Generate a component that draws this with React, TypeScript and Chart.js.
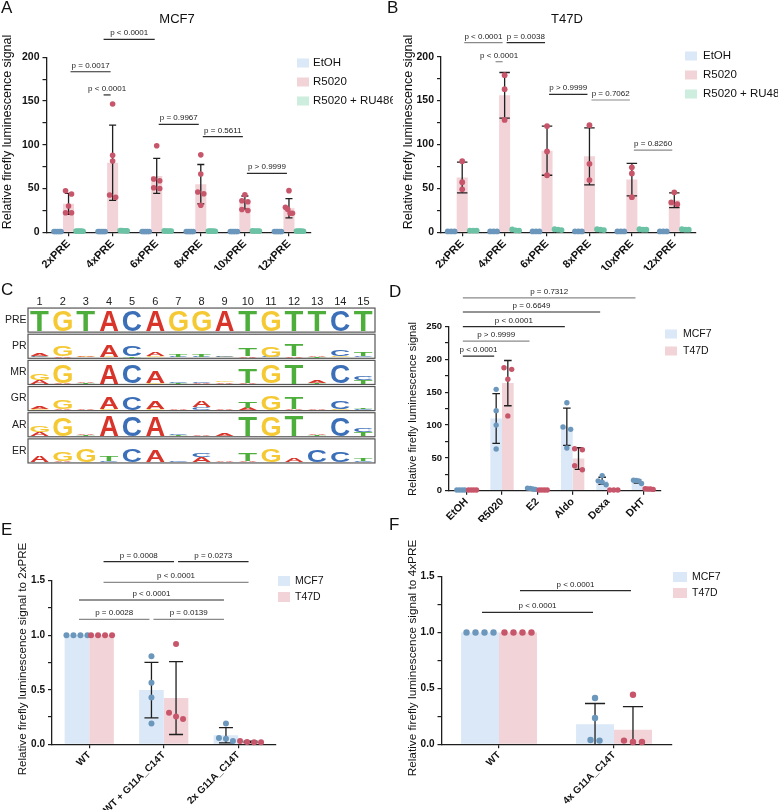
import React, { useEffect, useRef } from 'react';
import { Chart, registerables } from 'chart.js';
Chart.register(...registerables);

const FONT = '"Liberation Sans", Arial, Helvetica, sans-serif';
const AXIS = '#1e1e1e';
const BLUE_BAR = '#dbe8f7';
const BLUE_DOT = '#6c97bc';
const PINK_BAR = '#f2d3d8';
const PINK_DOT = '#c8566b';
const GREEN_BAR = '#cdeedf';
const GREEN_DOT = '#6cc2a4';

// ---------------- Panel A (MCF7) ----------------
const PRE_LABELS = ['2xPRE', '4xPRE', '6xPRE', '8xPRE', '10xPRE', '12xPRE'];
const A_ETOH = [1, 1, 1, 1, 1, 1];
const A_ETOH_SD = [0, 0, 0, 0, 0, 0];
const A_ETOH_PTS = [[1, 1, 1, 1, 1], [1, 1, 1, 1, 1], [1, 1, 1, 1, 1], [1, 1, 1, 1, 1], [1, 1, 1, 1, 1], [1, 1, 1, 1, 1]];
const A_R5020 = [32.5, 79.6, 64.4, 55, 34, 27.5];
const A_R5020_SD = [12, 43, 20, 22.5, 7.5, 11];
const A_R5020_PTS = [[47.5, 43.8, 30, 22.4, 22.4], [146.7, 88, 81.5, 42.6, 40], [99, 61, 59, 51, 50], [88.5, 66.6, 46, 44, 31], [43, 36, 35, 26, 25], [47.6, 28.5, 26.2, 21.7, 21.7]];
const A_RU486 = [1.3, 1.8, 1.5, 1.3, 1.5, 1.3];
const A_RU486_SD = [0, 0, 0, 0, 0, 0];
const A_RU486_PTS = [[1.3, 1.2, 1.4, 1.3, 1.3], [2, 1.6, 1.8, 2, 1.7], [1.5, 1.4, 1.6, 1.5, 1.5], [1.3, 1.2, 1.4, 1.3, 1.3], [1.5, 1.4, 1.6, 1.5, 1.5], [1.3, 1.2, 1.4, 1.3, 1.3]];

// ---------------- Panel B (T47D) ----------------
const B_ETOH = [1, 1, 1, 1, 1, 1];
const B_ETOH_SD = [0, 0, 0, 0, 0, 0];
const B_ETOH_PTS = [[1, 1, 1], [1, 1, 1], [1, 1, 1], [1, 1, 1], [1, 1, 1], [1, 1, 1]];
const B_R5020 = [62.5, 156, 93, 86.5, 60, 36.5];
const B_R5020_SD = [17.5, 26, 28, 32.5, 18.5, 8.5];
const B_R5020_PTS = [[81, 57, 49], [179, 163, 128], [121, 92, 65], [122, 78, 59.5], [74, 67, 40], [45.5, 34, 32]];
const B_RU486 = [2, 2.5, 3, 3, 3, 3];
const B_RU486_SD = [0, 0, 0, 0, 0, 0];
const B_RU486_PTS = [[2, 2, 2], [2, 3.3, 2.2], [3.5, 3, 2.5], [3, 3.5, 2.5], [3, 3.5, 3], [3, 3.5, 3]];

// ---------------- Panel D (hormones) ----------------
const D_LABELS = ['EtOH', 'R5020', 'E2', 'Aldo', 'Dexa', 'DHT'];
const D_MCF7 = [1, 110, 3, 97.5, 15, 14];
const D_MCF7_SD = [0, 38, 1, 28.5, 5.5, 2.5];
const D_MCF7_PTS = [[1, 1, 1, 1], [154.5, 122, 100, 63.5], [4, 3.5, 2.5, 2], [134, 97, 93.5, 65], [23, 15, 13, 9], [16, 15.5, 15, 11]];
const D_T47D = [1, 164, 1, 49, 1, 2.5];
const D_T47D_SD = [0, 34.5, 0, 16.5, 0, 0.5];
const D_T47D_PTS = [[1, 1, 1, 1], [187.5, 185, 170, 114], [1, 1, 1, 1], [64, 62.5, 38, 32], [1, 1, 1], [2.5, 3, 2.5, 2]];

// ---------------- Panel E (2xPRE mutants) ----------------
const E_LABELS = ['WT', 'WT + G11A_C14T', '2x G11A_C14T'];
const E_MCF7 = [1, 0.497, 0.083];
const E_MCF7_SD = [0, 0.255, 0.07];
const E_MCF7_PTS = [[1, 1, 1, 1], [0.807, 0.565, 0.428, 0.19], [0.19, 0.058, 0.052, 0.03]];
const E_T47D = [1, 0.424, 0.022];
const E_T47D_SD = [0, 0.334, 0.006];
const E_T47D_PTS = [[1, 1, 1, 1], [0.92, 0.29, 0.254, 0.232], [0.03, 0.02, 0.018, 0.018]];

// ---------------- Panel F (4xPRE mutants) ----------------
const F_LABELS = ['WT', '4x G11A_C14T'];
const F_MCF7 = [1, 0.18];
const F_MCF7_SD = [0, 0.185];
const F_MCF7_PTS = [[1, 1, 1, 1], [0.415, 0.236, 0.039, 0.033]];
const F_T47D = [1, 0.13];
const F_T47D_SD = [0, 0.207];
const F_T47D_PTS = [[1, 1, 1, 1], [0.444, 0.033, 0.021, 0.021]];

// ---------------- Panel C (sequence logos) ----------------
type L = [string, number][];
const LOGO_POSITIONS = [1, 2, 3, 4, 5, 6, 7, 8, 9, 10, 11, 12, 13, 14, 15];
const LOGO_ROWS = ['PRE', 'PR', 'MR', 'GR', 'AR', 'ER'];
const PRE_SEQ = 'TGTACAGGATGTTCT';
const PRE_HEIGHT = 0.78;
const PR_LOGO: L[] = [
  [['G', 0.03], ['C', 0.03], ['A', 0.1]], [['A', 0.04], ['G', 0.38]], [['G', 0.03], ['A', 0.05]],
  [['G', 0.03], ['A', 0.45]], [['T', 0.06], ['C', 0.42]], [['G', 0.04], ['A', 0.15]],
  [['C', 0.03], ['T', 0.1]], [['C', 0.03], ['T', 0.08]], [['G', 0.03], ['C', 0.04]],
  [['A', 0.05], ['T', 0.3]], [['C', 0.03], ['G', 0.4]], [['A', 0.04], ['T', 0.42]],
  [['T', 0.03], ['A', 0.04]], [['G', 0.04], ['C', 0.25]], [['C', 0.05], ['T', 0.12]],
];
const MR_LOGO: L[] = [
  [['A', 0.15], ['G', 0.25]], [['A', 0.03], ['G', 0.68]], [['T', 0.04], ['A', 0.06]],
  [['A', 0.72]], [['C', 0.68]], [['G', 0.03], ['A', 0.42]],
  [['T', 0.03], ['C', 0.04]], [['A', 0.02], ['C', 0.03]], [['A', 0.05], ['G', 0.06]],
  [['A', 0.03], ['T', 0.55]], [['G', 0.7]], [['T', 0.72]],
  [['T', 0.04], ['A', 0.1]], [['C', 0.7]], [['T', 0.15], ['C', 0.15]],
];
const GR_LOGO: L[] = [
  [['G', 0.02], ['A', 0.07]], [['A', 0.03], ['G', 0.33]], [['A', 0.03]],
  [['G', 0.03], ['A', 0.43]], [['C', 0.48]], [['G', 0.04], ['A', 0.27]],
  [['A', 0.02]], [['C', 0.1], ['A', 0.22]], [['A', 0.03]],
  [['A', 0.08], ['T', 0.22]], [['G', 0.55]], [['A', 0.04], ['T', 0.45]],
  [['A', 0.02]], [['G', 0.03], ['C', 0.3]], [['C', 0.04], ['T', 0.06]],
];
const AR_LOGO: L[] = [
  [['A', 0.15], ['G', 0.25]], [['G', 0.72]], [['T', 0.05], ['A', 0.06]],
  [['A', 0.78]], [['C', 0.74]], [['A', 0.72]],
  [['T', 0.02], ['C', 0.03]], [['A', 0.03]], [['A', 0.08]],
  [['T', 0.72]], [['G', 0.76]], [['T', 0.78]],
  [['T', 0.05], ['A', 0.06]], [['C', 0.72]], [['T', 0.15], ['C', 0.15]],
];
const ER_LOGO: L[] = [
  [['A', 0.22]], [['A', 0.03], ['G', 0.33]], [['G', 0.5]],
  [['C', 0.04], ['T', 0.2]], [['C', 0.48]], [['A', 0.45]],
  [['C', 0.02]], [['A', 0.2], ['C', 0.15]], [['A', 0.02]],
  [['A', 0.05], ['T', 0.3]], [['G', 0.5]], [['A', 0.15]],
  [['C', 0.45]], [['C', 0.4]], [['C', 0.04], ['T', 0.1]],
];
const BASE_COLORS: Record<string, string> = { A: '#d9342a', C: '#3b6fb8', G: '#f5c933', T: '#4dae3c' };

// ---------------- types ----------------
type Series = { name: string; means: number[]; sds: number[]; points: number[][]; bar: string; dot: string };
type Sig = { a: [number, number]; b: [number, number]; y: number; label: string; gray?: boolean };
type Box = { x: number; y: number; w: number; h: number };
type Area = { l: number; t: number; r: number; b: number };
type Panel = {
  box: Box; area: Area;
  letter: string; letterXY: [number, number];
  title?: string; titleXY?: [number, number]; titleSize?: number;
  yTitle: string; yTitleXY: [number, number]; yTitleSize: number;
  categories: string[]; series: Series[];
  yMax: number; yStep: number; yMajor: number; yDecimals: number;
  yTickSize: number; xTickSize: number;
  catPct: number; dotR: number; dotStep: number; capRatio: number;
  legend: { x: number; ys: number[]; w: number; h: number; textX: number; size: number };
  sigs: Sig[]; dottedX?: boolean;
};

const PANEL_A: Panel = {
  box: { x: 0, y: 0, w: 393, h: 270 }, area: { l: 46.5, t: 57.3, r: 311, b: 232.3 },
  letter: 'A', letterXY: [1, 12.5], title: 'MCF7', titleXY: [177, 19], titleSize: 13,
  yTitle: 'Relative firefly luminescence signal', yTitleXY: [8, 132], yTitleSize: 12.5,
  categories: PRE_LABELS,
  series: [
    { name: 'EtOH', means: A_ETOH, sds: A_ETOH_SD, points: A_ETOH_PTS, bar: BLUE_BAR, dot: BLUE_DOT },
    { name: 'R5020', means: A_R5020, sds: A_R5020_SD, points: A_R5020_PTS, bar: PINK_BAR, dot: PINK_DOT },
    { name: 'R5020 + RU486', means: A_RU486, sds: A_RU486_SD, points: A_RU486_PTS, bar: GREEN_BAR, dot: GREEN_DOT },
  ],
  yMax: 200, yStep: 25, yMajor: 50, yDecimals: 0, yTickSize: 10.5, xTickSize: 11,
  catPct: 0.75, dotR: 2.8, dotStep: 6, capRatio: 0.64,
  legend: { x: 297, ys: [63, 82, 101], w: 12, h: 9, textX: 313, size: 11.5 },
  sigs: [
    { a: [1, 0], b: [2, 1], y: 220.6, label: 'p < 0.0001' },
    { a: [0, 1], b: [1, 1], y: 183.5, label: 'p = 0.0017' },
    { a: [1, 0], b: [1, 1], y: 157, label: 'p < 0.0001' },
    { a: [2, 1], b: [3, 1], y: 123.4, label: 'p = 0.9967' },
    { a: [3, 1], b: [4, 1], y: 109.3, label: 'p = 0.5611' },
    { a: [4, 1], b: [5, 1], y: 67.4, label: 'p > 0.9999' },
  ],
};

const PANEL_B: Panel = {
  box: { x: 386, y: 0, w: 392, h: 270 }, area: { l: 441, t: 56.7, r: 695.5, b: 232.3 },
  letter: 'B', letterXY: [387, 13], title: 'T47D', titleXY: [567, 19], titleSize: 13,
  yTitle: 'Relative firefly luminescence signal', yTitleXY: [408.5, 132], yTitleSize: 12.5,
  categories: PRE_LABELS,
  series: [
    { name: 'EtOH', means: B_ETOH, sds: B_ETOH_SD, points: B_ETOH_PTS, bar: BLUE_BAR, dot: BLUE_DOT },
    { name: 'R5020', means: B_R5020, sds: B_R5020_SD, points: B_R5020_PTS, bar: PINK_BAR, dot: PINK_DOT },
    { name: 'R5020 + RU486', means: B_RU486, sds: B_RU486_SD, points: B_RU486_PTS, bar: GREEN_BAR, dot: GREEN_DOT },
  ],
  yMax: 200, yStep: 25, yMajor: 50, yDecimals: 0, yTickSize: 10.5, xTickSize: 11,
  catPct: 0.78, dotR: 2.9, dotStep: 6, capRatio: 0.95,
  legend: { x: 685, ys: [56, 75, 94], w: 12, h: 9, textX: 703, size: 11.5 },
  sigs: [
    { a: [0, 1], b: [1, 1], y: 216, label: 'p < 0.0001', gray: true },
    { a: [1, 1], b: [2, 1], y: 216, label: 'p = 0.0038' },
    { a: [1, 0], b: [1, 1], y: 194.3, label: 'p < 0.0001', gray: true },
    { a: [2, 1], b: [3, 1], y: 157, label: 'p > 0.9999' },
    { a: [3, 1], b: [4, 1], y: 150.7, label: 'p = 0.7062', gray: true },
    { a: [4, 1], b: [5, 1], y: 93.7, label: 'p = 0.8260', gray: true },
  ],
};

const PANEL_D: Panel = {
  box: { x: 386, y: 270, w: 392, h: 252 }, area: { l: 449, t: 326.7, r: 661, b: 490.7 },
  letter: 'D', letterXY: [389, 297],
  yTitle: 'Relative firefly luminescence signal', yTitleXY: [413, 409], yTitleSize: 11.2,
  categories: D_LABELS,
  series: [
    { name: 'MCF7', means: D_MCF7, sds: D_MCF7_SD, points: D_MCF7_PTS, bar: BLUE_BAR, dot: BLUE_DOT },
    { name: 'T47D', means: D_T47D, sds: D_T47D_SD, points: D_T47D_PTS, bar: PINK_BAR, dot: PINK_DOT },
  ],
  yMax: 250, yStep: 25, yMajor: 50, yDecimals: 0, yTickSize: 9.5, xTickSize: 10.5,
  catPct: 0.66, dotR: 2.7, dotStep: 7.7, capRatio: 0.65,
  legend: { x: 665, ys: [334, 351], w: 12, h: 9, textX: 683, size: 10.5 },
  sigs: [
    { a: [0, 0], b: [5, 0], y: 294, label: 'p = 0.7312', gray: true },
    { a: [0, 0], b: [4, 0], y: 272.4, label: 'p = 0.6649' },
    { a: [0, 0], b: [3, 0], y: 250, label: 'p < 0.0001' },
    { a: [0, 0], b: [2, 0], y: 228, label: 'p > 0.9999', gray: true },
    { a: [0, 0], b: [1, 0], y: 205, label: 'p < 0.0001' },
  ],
};

const PANEL_E: Panel = {
  box: { x: 0, y: 512, w: 390, h: 298 }, area: { l: 52, t: 580.7, r: 275.5, b: 744.3 },
  letter: 'E', letterXY: [1, 535],
  yTitle: 'Relative firefly luminescence signal to 2xPRE', yTitleXY: [23, 659], yTitleSize: 11.6,
  categories: E_LABELS,
  series: [
    { name: 'MCF7', means: E_MCF7, sds: E_MCF7_SD, points: E_MCF7_PTS, bar: BLUE_BAR, dot: BLUE_DOT },
    { name: 'T47D', means: E_T47D, sds: E_T47D_SD, points: E_T47D_PTS, bar: PINK_BAR, dot: PINK_DOT },
  ],
  yMax: 1.5, yStep: 0.25, yMajor: 0.5, yDecimals: 1, yTickSize: 10, xTickSize: 10,
  catPct: 0.66, dotR: 3, dotStep: 7, capRatio: 0.57,
  legend: { x: 278, ys: [581, 597], w: 12, h: 10, textX: 295, size: 10.5 },
  sigs: [
    { a: [0, 1], b: [1, 1], y: 1.674, label: 'p = 0.0008' },
    { a: [1, 1], b: [2, 1], y: 1.674, label: 'p = 0.0273' },
    { a: [0, 1], b: [2, 1], y: 1.485, label: 'p < 0.0001', gray: true },
    { a: [0, 0], b: [2, 0], y: 1.323, label: 'p < 0.0001' },
    { a: [0, 0], b: [1, 0], y: 1.146, label: 'p = 0.0028', gray: true },
    { a: [1, 0], b: [2, 0], y: 1.146, label: 'p = 0.0139', gray: true },
  ],
};

const PANEL_F: Panel = {
  box: { x: 386, y: 512, w: 392, h: 298 }, area: { l: 441.5, t: 576.7, r: 671.5, b: 744.3 },
  letter: 'F', letterXY: [389, 530],
  yTitle: 'Relative firefly luminescence signal to 4xPRE', yTitleXY: [413, 658], yTitleSize: 11.8,
  categories: F_LABELS,
  series: [
    { name: 'MCF7', means: F_MCF7, sds: F_MCF7_SD, points: F_MCF7_PTS, bar: BLUE_BAR, dot: BLUE_DOT },
    { name: 'T47D', means: F_T47D, sds: F_T47D_SD, points: F_T47D_PTS, bar: PINK_BAR, dot: PINK_DOT },
  ],
  yMax: 1.5, yStep: 0.25, yMajor: 0.5, yDecimals: 1, yTickSize: 10, xTickSize: 10,
  catPct: 0.66, dotR: 3.2, dotStep: 9, capRatio: 0.53,
  legend: { x: 673, ys: [577, 593], w: 14, h: 10, textX: 692, size: 10.5 },
  sigs: [
    { a: [0, 1], b: [1, 1], y: 1.375, label: 'p < 0.0001' },
    { a: [0, 0], b: [1, 0], y: 1.18, label: 'p < 0.0001' },
  ],
  dottedX: true,
};

// ---------------- helpers ----------------
function spread(pys: number[], r: number, step: number, maxW: number): number[] {
  const idx = pys.map((_, i) => i).sort((a, b) => pys[a] - pys[b]);
  const offs = new Array(pys.length).fill(0);
  let cluster: number[] = [];
  const flush = () => {
    const n = cluster.length;
    if (n > 1) {
      const st = Math.max(0, Math.min(step, (maxW - 2 * r) / (n - 1)));
      cluster.forEach((k, j) => { offs[k] = (j - (n - 1) / 2) * st; });
    }
    cluster = [];
  };
  for (const k of idx) {
    if (cluster.length && pys[k] - pys[cluster[cluster.length - 1]] > 1.8 * r) flush();
    cluster.push(k);
  }
  flush();
  return offs;
}

function makeBarConfig(p: Panel): any {
  const isMajor = (v: number) => Math.abs(v / p.yMajor - Math.round(v / p.yMajor)) < 1e-6;
  const decor = {
    id: 'decor',
    afterDatasetsDraw(chart: any) {
      const { ctx, chartArea } = chart;
      const ys = chart.scales.y;
      ctx.save();
      ctx.strokeStyle = '#1f1f1f';
      ctx.lineWidth = 1.3;
      p.series.forEach((s, di) => {
        const meta = chart.getDatasetMeta(di);
        meta.data.forEach((el: any, ci: number) => {
          const sd = s.sds[ci];
          if (!sd) return;
          const x = el.x;
          const half = (el.width * p.capRatio) / 2;
          const top = ys.getPixelForValue(s.means[ci] + sd);
          const rawBot = ys.getPixelForValue(s.means[ci] - sd);
          const bot = Math.min(rawBot, chartArea.bottom);
          ctx.beginPath();
          ctx.moveTo(x, top); ctx.lineTo(x, bot);
          ctx.moveTo(x - half, top); ctx.lineTo(x + half, top);
          if (rawBot <= chartArea.bottom) { ctx.moveTo(x - half, bot); ctx.lineTo(x + half, bot); }
          ctx.stroke();
        });
      });
      p.series.forEach((s, di) => {
        const meta = chart.getDatasetMeta(di);
        meta.data.forEach((el: any, ci: number) => {
          const pts = s.points[ci] || [];
          const pys = pts.map((v) => ys.getPixelForValue(v));
          const offs = spread(pys, p.dotR, p.dotStep, el.width * 1.15);
          ctx.fillStyle = s.dot;
          pys.forEach((py, k) => {
            ctx.beginPath();
            ctx.arc(el.x + offs[k], py, p.dotR, 0, Math.PI * 2);
            ctx.fill();
          });
        });
      });
      ctx.restore();
    },
    afterDraw(chart: any) {
      const { ctx } = chart;
      const ys = chart.scales.y;
      ctx.save();
      // significance bars (chart coordinates)
      ctx.lineWidth = 1.2;
      ctx.font = `8px ${FONT}`;
      ctx.textAlign = 'center';
      ctx.textBaseline = 'alphabetic';
      for (const sg of p.sigs) {
        const xa = chart.getDatasetMeta(sg.a[1]).data[sg.a[0]].x + 2;
        const xb = chart.getDatasetMeta(sg.b[1]).data[sg.b[0]].x - 2;
        const py = ys.getPixelForValue(sg.y);
        ctx.strokeStyle = sg.gray ? '#8a8a8a' : '#2a2a2a';
        ctx.beginPath(); ctx.moveTo(xa, py); ctx.lineTo(xb, py); ctx.stroke();
        ctx.fillStyle = '#222';
        ctx.fillText(sg.label, (xa + xb) / 2, py - 4);
      }
      // page-coordinate text
      ctx.translate(-p.box.x, -p.box.y);
      ctx.fillStyle = '#111';
      ctx.textAlign = 'left';
      ctx.textBaseline = 'alphabetic';
      ctx.font = `17px ${FONT}`;
      ctx.fillText(p.letter, p.letterXY[0], p.letterXY[1]);
      if (p.title && p.titleXY) {
        ctx.font = `${p.titleSize}px ${FONT}`;
        ctx.textAlign = 'center';
        ctx.textBaseline = 'middle';
        ctx.fillText(p.title, p.titleXY[0], p.titleXY[1]);
      }
      ctx.save();
      ctx.translate(p.yTitleXY[0], p.yTitleXY[1]);
      ctx.rotate(-Math.PI / 2);
      ctx.font = `${p.yTitleSize}px ${FONT}`;
      ctx.textAlign = 'center';
      ctx.textBaseline = 'middle';
      ctx.fillText(p.yTitle, 0, 0);
      ctx.restore();
      // legend
      ctx.textAlign = 'left';
      ctx.textBaseline = 'middle';
      ctx.font = `${p.legend.size}px ${FONT}`;
      p.series.forEach((s, i) => {
        const yc = p.legend.ys[i];
        ctx.fillStyle = s.bar;
        ctx.fillRect(p.legend.x, yc - p.legend.h / 2, p.legend.w, p.legend.h);
        ctx.fillStyle = '#111';
        ctx.fillText(s.name, p.legend.textX, yc);
      });
      ctx.restore();
    },
  };
  return {
    type: 'bar',
    data: {
      labels: p.categories,
      datasets: p.series.map((s) => ({
        label: s.name, data: s.means, backgroundColor: s.bar, borderWidth: 0,
        barPercentage: 1, categoryPercentage: p.catPct,
      })),
    },
    options: {
      responsive: false, maintainAspectRatio: false, animation: false,
      layout: { padding: { left: 0, top: p.area.t - p.box.y, right: p.box.x + p.box.w - p.area.r, bottom: 0 } },
      plugins: { legend: { display: false }, tooltip: { enabled: false }, title: { display: false } },
      scales: {
        x: {
          type: 'category', offset: true,
          grid: { display: true, drawOnChartArea: false, offset: false, tickLength: 4, color: AXIS, lineWidth: 1.2 },
          border: { display: true, color: AXIS, width: 1.3, dash: p.dottedX ? [1.5, 1.5] : [] },
          ticks: {
            color: '#111', font: { family: FONT, size: p.xTickSize, weight: 'bold' },
            minRotation: 45, maxRotation: 45, padding: 1, autoSkip: false,
          },
          afterFit: (s: any) => { s.height = p.box.y + p.box.h - p.area.b; },
        },
        y: {
          type: 'linear', min: 0, max: p.yMax,
          grid: { display: true, drawOnChartArea: false, tickLength: 4, color: AXIS, lineWidth: 1.2 },
          border: { display: true, color: AXIS, width: 1.3 },
          ticks: {
            stepSize: p.yStep, autoSkip: false, color: '#111', padding: 3,
            font: { family: FONT, size: p.yTickSize, weight: 'bold' },
            callback: (v: number) => (isMajor(v) ? Number(v).toFixed(p.yDecimals) : ''),
          },
          afterFit: (s: any) => { s.width = p.area.l - p.box.x; },
        },
      },
    },
    plugins: [decor],
  };
}

function BarPanel({ p }: { p: Panel }) {
  const ref = useRef<HTMLCanvasElement>(null);
  useEffect(() => {
    const chart = new Chart(ref.current as HTMLCanvasElement, makeBarConfig(p));
    return () => chart.destroy();
  }, [p]);
  return (
    <canvas ref={ref} width={p.box.w} height={p.box.h}
      style={{ position: 'absolute', left: p.box.x, top: p.box.y, width: p.box.w, height: p.box.h }} />
  );
}

// ---------------- Logo panel ----------------
const LOGO_BOX: Box = { x: 0, y: 270, w: 390, h: 215 };
const LOGO_AREA: Area = { l: 28, t: 307, r: 375, b: 464 };

function drawGlyph(ctx: CanvasRenderingContext2D, ch: string, x0: number, yTop: number, w: number, h: number, color: string) {
  if (h < 0.3) return;
  ctx.save();
  ctx.font = `bold 100px ${FONT}`;
  ctx.textAlign = 'left';
  ctx.textBaseline = 'alphabetic';
  const m = ctx.measureText(ch);
  const bl = m.actualBoundingBoxLeft, br = m.actualBoundingBoxRight;
  const ba = m.actualBoundingBoxAscent, bd = m.actualBoundingBoxDescent;
  ctx.translate(x0, yTop);
  ctx.scale(w / (bl + br), h / (ba + bd));
  ctx.fillStyle = color;
  ctx.fillText(ch, bl, ba);
  ctx.restore();
}

function makeLogoConfig(): any {
  const rows: L[][] = [
    PRE_SEQ.split('').map((c) => [[c, PRE_HEIGHT]] as L),
    PR_LOGO, MR_LOGO, GR_LOGO, AR_LOGO, ER_LOGO,
  ];
  const logo = {
    id: 'logo',
    afterDraw(chart: any) {
      const { ctx } = chart;
      const xs = chart.scales.x, ys = chart.scales.y;
      const colW = xs.getPixelForValue(1.5) - xs.getPixelForValue(0.5);
      ctx.save();
      // column numbers
      ctx.fillStyle = '#222';
      ctx.font = `11px ${FONT}`;
      ctx.textAlign = 'center';
      ctx.textBaseline = 'middle';
      LOGO_POSITIONS.forEach((n) => ctx.fillText(String(n), xs.getPixelForValue(n), 32));
      rows.forEach((row, r) => {
        const base = LOGO_ROWS.length - 1 - r;
        const top = ys.getPixelForValue(base + 0.96);
        const bot = ys.getPixelForValue(base + 0.04);
        const left = xs.getPixelForValue(0.5);
        const right = xs.getPixelForValue(15.5);
        ctx.strokeStyle = '#555';
        ctx.lineWidth = 1.2;
        ctx.strokeRect(left, top, right - left, bot - top);
        ctx.fillStyle = '#222';
        ctx.font = `10.5px ${FONT}`;
        ctx.textAlign = 'right';
        ctx.textBaseline = 'middle';
        ctx.fillText(LOGO_ROWS[r], 26.5, (top + bot) / 2);
        row.forEach((stack, ci) => {
          let cum = base + 0.07;
          const cx = xs.getPixelForValue(LOGO_POSITIONS[ci]);
          const w = colW * 0.8;
          stack.forEach(([ch, hgt]) => {
            const yT = ys.getPixelForValue(cum + hgt);
            const yB = ys.getPixelForValue(cum);
            drawGlyph(ctx, ch, cx - w / 2, yT, w, yB - yT, BASE_COLORS[ch]);
            cum += hgt;
          });
        });
      });
      ctx.fillStyle = '#111';
      ctx.font = `17px ${FONT}`;
      ctx.textAlign = 'left';
      ctx.textBaseline = 'alphabetic';
      ctx.fillText('C', 1, 295 - LOGO_BOX.y);
      ctx.restore();
    },
  };
  return {
    type: 'scatter',
    data: { datasets: [] },
    options: {
      responsive: false, maintainAspectRatio: false, animation: false,
      layout: {
        padding: {
          left: LOGO_AREA.l - LOGO_BOX.x, right: LOGO_BOX.x + LOGO_BOX.w - LOGO_AREA.r,
          top: LOGO_AREA.t - LOGO_BOX.y, bottom: LOGO_BOX.y + LOGO_BOX.h - LOGO_AREA.b,
        },
      },
      plugins: { legend: { display: false }, tooltip: { enabled: false } },
      scales: {
        x: { type: 'linear', min: 0.5, max: 15.5, display: false },
        y: { type: 'linear', min: 0, max: 6, display: false },
      },
    },
    plugins: [logo],
  };
}

function LogoPanel() {
  const ref = useRef<HTMLCanvasElement>(null);
  useEffect(() => {
    const chart = new Chart(ref.current as HTMLCanvasElement, makeLogoConfig());
    return () => chart.destroy();
  }, []);
  return (
    <canvas ref={ref} width={LOGO_BOX.w} height={LOGO_BOX.h}
      style={{ position: 'absolute', left: LOGO_BOX.x, top: LOGO_BOX.y, width: LOGO_BOX.w, height: LOGO_BOX.h }} />
  );
}

export default function App() {
  return (
    <div style={{ position: 'fixed', left: 0, top: 0, width: 778, height: 810, background: '#fff', overflow: 'hidden' }}>
      <BarPanel p={PANEL_A} />
      <BarPanel p={PANEL_B} />
      <LogoPanel />
      <BarPanel p={PANEL_D} />
      <BarPanel p={PANEL_E} />
      <BarPanel p={PANEL_F} />
    </div>
  );
}
